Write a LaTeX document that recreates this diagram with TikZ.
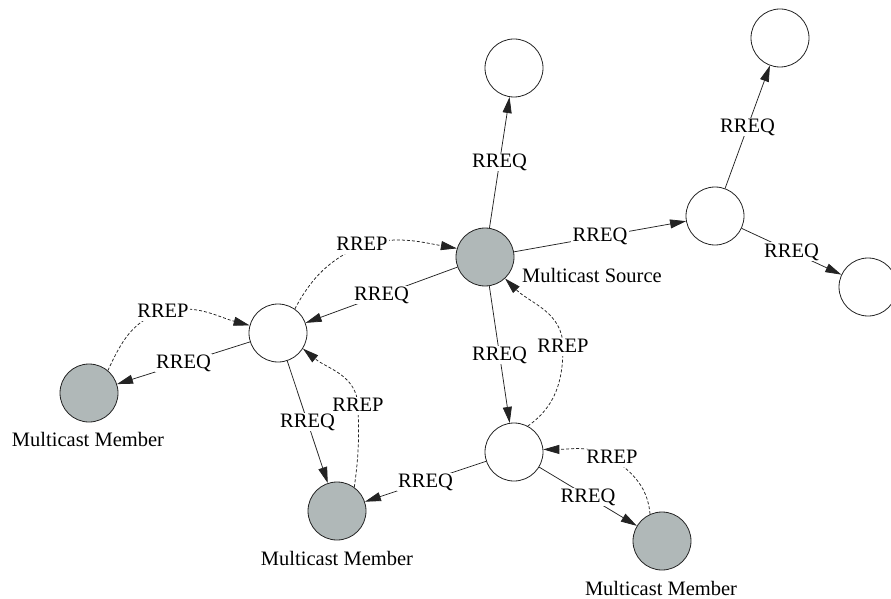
\documentclass[tikz,border=0pt]{standalone}
\usepackage{fontspec}
\setmainfont{Liberation Serif}
\usetikzlibrary{arrows.meta}
\definecolor{membergray}{RGB}{176,184,184}
\definecolor{ink}{RGB}{35,35,35}
\begin{document}
\begin{tikzpicture}[x=1pt,y=1pt,
  host/.style={circle,draw=ink,line width=0.8pt,minimum size=58pt,inner sep=0pt,fill=white},
  member/.style={host,fill=membergray},
  req/.style={draw=ink,line width=0.75pt,-{Triangle[length=16pt,width=9pt]}},
  rep/.style={req,dash pattern=on 3pt off 2pt},
  lab/.style={fill=white,inner sep=1.5pt,font=\fontsize{20.5}{24}\selectfont,text height=13pt,text depth=2pt},
  caption/.style={font=\fontsize{20.5}{24}\selectfont,inner sep=0pt}]
\useasboundingbox (0,0) rectangle (891,598);

% hosts
\node[member] (S)  at (485,341) {};
\node[host]   (T1) at (514,530) {};
\node[host]   (R)  at (715,382) {};
\node[host]   (RT) at (780,560) {};
\node[host]   (RB) at (868,311) {};
\node[host]   (L)  at (278,265) {};
\node[member] (M1) at (89,205) {};
\node[member] (M2) at (337,87) {};
\node[host]   (B)  at (514,146) {};
\node[member] (M3) at (662,57) {};

% captions
\node[caption,anchor=base west] (capS) at (522,316) {Multicast Source};
\node[caption,anchor=base] (capM1) at (88,152) {Multicast Member};
\node[caption,anchor=base] (capM2) at (337,33) {Multicast Member};
\node[caption,anchor=base] (capM3) at (661,3) {Multicast Member};

% route requests flooding outward
\draw[req] (S) -- node[lab] (q1) {RREQ} (T1);
\draw[req] (S) -- node[lab] (q2) {RREQ} (R);
\draw[req] (R) -- node[lab] (q3) {RREQ} (RT);
\draw[req] (R) -- node[lab] (q4) {RREQ} (RB);
\draw[req] (S) -- node[lab] (q5) {RREQ} (L);
\draw[req] (S) -- node[lab] (q6) {RREQ} (B);
\draw[req] (L) -- node[lab] (q7) {RREQ} (M1);
\draw[req] (L) -- node[lab] (q8) {RREQ} (M2);
\draw[req] (B) -- node[lab] (q9) {RREQ} (M2);
\draw[req] (B) -- node[lab] (q10) {RREQ} (M3);

% route replies travelling back
\draw[rep] (M1.50) to[out=65,in=195] (163,286) node[lab] (p1) {RREP}
           to[out=15,in=165] (L.165);
\draw[rep] (L.55) to[out=62,in=205] (362,353) node[lab] (p2) {RREP}
           to[out=15,in=170] (S.163);
\draw[rep] (M2.54) to[out=82,in=-88] (358,192) node[lab] (p3) {RREP}
           to[out=92,in=-40] (L.-32);
\draw[rep] (B.62) to[out=35,in=-90] (563,251) node[lab] (p4) {RREP}
           to[out=90,in=-45] (S.-47);
\draw[rep] (M3.114) to[out=95,in=-35] (612,140) node[lab] (p5) {RREP}
           to[out=150,in=0] (B.5);
\end{tikzpicture}
\end{document}
